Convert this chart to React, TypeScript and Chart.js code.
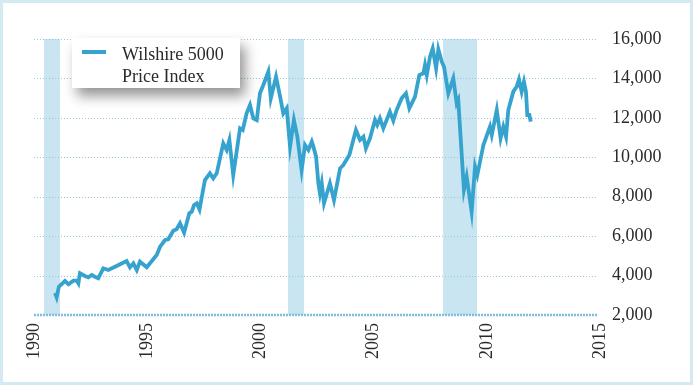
import React, { useEffect, useRef } from "react";
import { Chart, registerables } from "chart.js";

Chart.register(...registerables);

// Wilshire 5000 Price Index (decimal year, index value)
const years = [
  1990.93, 1991.0, 1991.1, 1991.37, 1991.52, 1991.74, 1991.89, 1991.96, 1992.03, 1992.25,
  1992.4, 1992.55, 1992.69, 1992.84, 1993.06, 1993.28, 1993.67, 1994.09, 1994.24, 1994.39,
  1994.54, 1994.68, 1994.98, 1995.42, 1995.57, 1995.79, 1995.93, 1996.15, 1996.3, 1996.45,
  1996.63, 1996.86, 1996.97, 1997.07, 1997.19, 1997.31, 1997.55, 1997.77, 1997.92, 1998.07,
  1998.36, 1998.51, 1998.63, 1998.8, 1999.1, 1999.22, 1999.39, 1999.54, 1999.69, 1999.84,
  1999.98, 2000.13, 2000.35, 2000.46, 2000.69, 2000.87, 2001.01, 2001.16, 2001.31, 2001.48,
  2001.63, 2001.82, 2001.97, 2002.12, 2002.27, 2002.34, 2002.46, 2002.56, 2002.63, 2002.71,
  2002.81, 2003.07, 2003.25, 2003.52, 2003.66, 2003.93, 2004.22, 2004.4, 2004.55, 2004.66,
  2004.84, 2005.06, 2005.16, 2005.28, 2005.43, 2005.72, 2005.87, 2006.02, 2006.24, 2006.43,
  2006.58, 2006.83, 2007.02, 2007.2, 2007.27, 2007.35, 2007.49, 2007.61, 2007.76, 2007.86,
  2008.01, 2008.11, 2008.3, 2008.52, 2008.67, 2008.74, 2008.99, 2009.11, 2009.33, 2009.48,
  2009.58, 2009.85, 2010.14, 2010.22, 2010.44, 2010.61, 2010.73, 2010.85, 2010.95, 2011.17,
  2011.32, 2011.42, 2011.54, 2011.64, 2011.73, 2011.79, 2011.88, 2011.94,
];
const values = [
  3116, 2900, 3435, 3725, 3557, 3740, 3740, 3608, 4115, 3978,
  3912, 4029, 3943, 3860, 4368, 4282, 4500, 4739, 4419, 4622,
  4282, 4704, 4419, 5043, 5464, 5804, 5840, 6276, 6347, 6651,
  6176, 7158, 7240, 7579, 7665, 7350, 8848, 9186, 8933, 9186,
  10709, 10370, 10877, 9100, 11468, 11383, 12229, 12651, 11975, 11890,
  13244, 13666, 14342, 12990, 14088, 13075, 12229, 12483, 10540, 11890,
  11045, 9354, 10624, 10370, 10793, 10540, 10033, 8680, 8172, 8680,
  7666, 8680, 7833, 9441, 9608, 10115, 11383, 10877, 11045, 10455,
  10962, 11890, 11637, 11975, 11468, 12313, 11856, 12398, 12991, 13244,
  12483, 13075, 14173, 14258, 14680, 14173, 15100, 15526, 14512, 15475,
  14849, 14596, 13244, 14004, 12737, 12905, 8342, 9015, 7240, 9522,
  9100, 10624, 11552, 11130, 12398, 10962, 11552, 11045, 12398, 13328,
  13582, 13954, 13328, 13835, 13328, 12144, 12144, 11805,
];

// Shaded recession periods (decimal years)
const recessionStarts = [1990.44, 2001.22, 2008.07];
const recessionEnds = [1991.15, 2001.93, 2009.57];

const xTicks = [1990, 1995, 2000, 2005, 2010, 2015];
const yTicks = [2000, 4000, 6000, 8000, 10000, 12000, 14000, 16000];
const legendLines = ["Wilshire 5000", "Price Index"];
const seriesLabel = "Wilshire 5000 Price Index";

const LINE_COLOR = "#35a3ce";
const BAND_COLOR = "#c9e5f1";
const GRID_COLOR = "#98c8da";
const AXIS_LINE_COLOR = "#7ec0da";
const TEXT_COLOR = "#2a2a2a";
const FONT_FAMILY = '"Liberation Serif", "Times New Roman", serif';

const backgroundPlugin = {
  id: "bandsAndGrid",
  beforeDatasetsDraw(chart: any) {
    const { ctx, chartArea, scales } = chart;
    ctx.save();
    // recession bands
    ctx.fillStyle = BAND_COLOR;
    for (let i = 0; i < recessionStarts.length; i++) {
      const x1 = scales.x.getPixelForValue(recessionStarts[i]);
      const x2 = scales.x.getPixelForValue(recessionEnds[i]);
      ctx.fillRect(x1, chartArea.top, x2 - x1, chartArea.bottom - chartArea.top);
    }
    // dotted horizontal grid lines
    ctx.strokeStyle = GRID_COLOR;
    ctx.lineWidth = 1;
    ctx.setLineDash([1, 2]);
    for (let i = 1; i < yTicks.length; i++) {
      const y = Math.round(scales.y.getPixelForValue(yTicks[i])) + 0.5;
      ctx.beginPath();
      ctx.moveTo(chartArea.left, y);
      ctx.lineTo(chartArea.right - 2, y);
      ctx.stroke();
    }
    // thicker dotted base line at the axis minimum
    const yb = scales.y.getPixelForValue(yTicks[0]);
    ctx.strokeStyle = AXIS_LINE_COLOR;
    ctx.lineWidth = 2.5;
    ctx.setLineDash([2, 1]);
    ctx.beginPath();
    ctx.moveTo(chartArea.left, yb);
    ctx.lineTo(chartArea.right - 2, yb);
    ctx.stroke();
    ctx.restore();
  },
};

const legendPlugin = {
  id: "boxLegend",
  afterDraw(chart: any) {
    const ctx = chart.ctx;
    const x = 69, y = 35, w = 168, h = 50;
    ctx.save();
    ctx.shadowColor = "rgba(0,0,0,0.42)";
    ctx.shadowBlur = 12;
    ctx.shadowOffsetX = 5;
    ctx.shadowOffsetY = 8;
    ctx.fillStyle = "#ffffff";
    ctx.fillRect(x, y, w, h);
    ctx.restore();

    ctx.save();
    ctx.strokeStyle = LINE_COLOR;
    ctx.lineWidth = 4;
    ctx.beginPath();
    ctx.moveTo(79, 49);
    ctx.lineTo(103, 49);
    ctx.stroke();
    ctx.fillStyle = TEXT_COLOR;
    ctx.font = `18px ${FONT_FAMILY}`;
    ctx.textBaseline = "alphabetic";
    ctx.textAlign = "left";
    ctx.fillText(legendLines[0], 119, 57);
    ctx.fillText(legendLines[1], 119, 79);
    ctx.restore();
  },
};

export default function App() {
  const canvasRef = useRef<HTMLCanvasElement | null>(null);

  useEffect(() => {
    if (!canvasRef.current) return;
    const chart = new Chart(canvasRef.current, {
      type: "line",
      data: {
        datasets: [
          {
            label: seriesLabel,
            data: years.map((yr, i) => ({ x: yr, y: values[i] })),
            borderColor: LINE_COLOR,
            backgroundColor: LINE_COLOR,
            borderWidth: 3.8,
            pointRadius: 0,
            tension: 0,
            borderJoinStyle: "miter",
          },
        ],
      },
      options: {
        responsive: false,
        animation: false,
        layout: { padding: { left: 31, top: 36, right: 0, bottom: 0 } },
        plugins: {
          legend: { display: false },
          tooltip: { enabled: false },
        },
        scales: {
          x: {
            type: "linear",
            min: xTicks[0],
            max: xTicks[xTicks.length - 1],
            afterBuildTicks: (scale: any) => {
              scale.ticks = xTicks.map((v) => ({ value: v }));
            },
            afterFit: (scale: any) => {
              scale.height = 67;
            },
            grid: { display: false, drawTicks: false },
            border: { display: false },
            ticks: {
              minRotation: 90,
              maxRotation: 90,
              padding: 8,
              color: TEXT_COLOR,
              font: { family: FONT_FAMILY, size: 18 },
              callback: (v: any) => String(v),
            },
          },
          y: {
            position: "right",
            min: yTicks[0],
            max: yTicks[yTicks.length - 1],
            afterBuildTicks: (scale: any) => {
              scale.ticks = yTicks.map((v) => ({ value: v }));
            },
            afterFit: (scale: any) => {
              scale.width = 90;
            },
            grid: { display: false, drawTicks: false },
            border: { display: false },
            ticks: {
              padding: 12,
              color: TEXT_COLOR,
              font: { family: FONT_FAMILY, size: 18 },
              callback: (v: any) => Number(v).toLocaleString("en-US"),
            },
          },
        },
      },
      plugins: [backgroundPlugin, legendPlugin],
    } as any);
    return () => chart.destroy();
  }, []);

  return (
    <div
      style={{
        position: "absolute",
        left: 0,
        top: 0,
        width: 693,
        height: 385,
        boxSizing: "border-box",
        border: "3px solid #d3eaf3",
        background: "#ffffff",
      }}
    >
      <canvas
        ref={canvasRef}
        width={687}
        height={379}
        style={{ display: "block", width: 687, height: 379 }}
      />
    </div>
  );
}
